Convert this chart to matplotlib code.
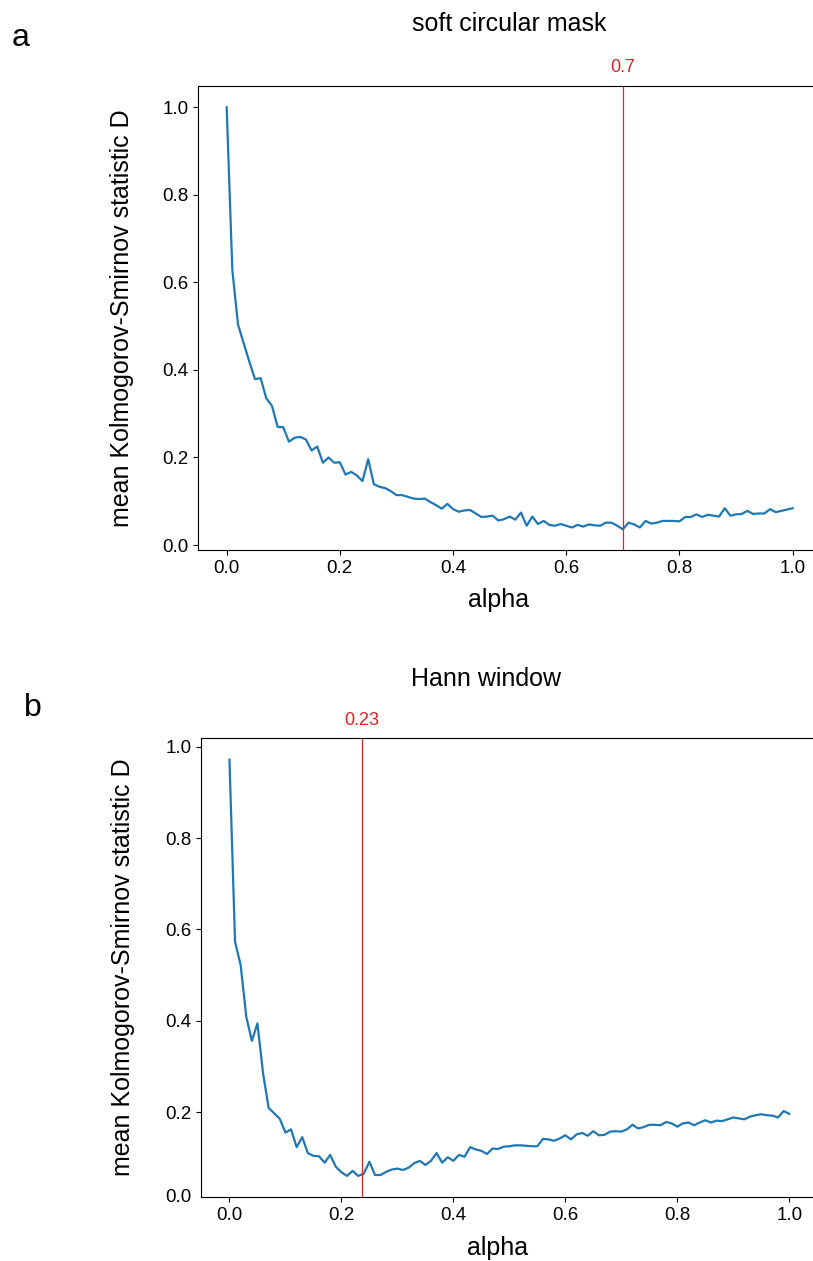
import numpy as np
import matplotlib
matplotlib.use('Agg')
import matplotlib.pyplot as plt

plt.rcParams['font.family'] = ['Liberation Sans', 'DejaVu Sans']

alpha = np.round(np.arange(0, 101) * 0.01, 2)

# soft circular mask
d_soft = [1.000, 0.628, 0.504, 0.461, 0.419, 0.379, 0.381, 0.335, 0.318, 0.270,
          0.269, 0.236, 0.245, 0.247, 0.241, 0.216, 0.225, 0.188, 0.200, 0.188,
          0.189, 0.161, 0.167, 0.159, 0.146, 0.196, 0.139, 0.133, 0.130, 0.123,
          0.114, 0.114, 0.110, 0.106, 0.105, 0.106, 0.098, 0.091, 0.083, 0.094,
          0.082, 0.076, 0.079, 0.080, 0.072, 0.064, 0.065, 0.067, 0.056, 0.059,
          0.065, 0.058, 0.074, 0.044, 0.065, 0.048, 0.055, 0.046, 0.044, 0.048,
          0.044, 0.040, 0.046, 0.042, 0.047, 0.045, 0.044, 0.051, 0.051, 0.044,
          0.036, 0.051, 0.047, 0.040, 0.055, 0.049, 0.051, 0.055, 0.055, 0.055,
          0.054, 0.064, 0.064, 0.070, 0.064, 0.069, 0.067, 0.065, 0.084, 0.067,
          0.070, 0.071, 0.078, 0.071, 0.072, 0.072, 0.082, 0.075, 0.078, 0.081,
          0.084]

# Hann window
d_hann = [0.972, 0.573, 0.522, 0.409, 0.356, 0.394, 0.285, 0.209, 0.197, 0.185,
          0.155, 0.162, 0.123, 0.145, 0.110, 0.104, 0.103, 0.089, 0.106, 0.080,
          0.068, 0.060, 0.071, 0.060, 0.065, 0.091, 0.062, 0.062, 0.069, 0.074,
          0.076, 0.073, 0.078, 0.088, 0.093, 0.084, 0.093, 0.110, 0.089, 0.101,
          0.093, 0.106, 0.102, 0.123, 0.118, 0.115, 0.108, 0.120, 0.119, 0.124,
          0.125, 0.127, 0.127, 0.126, 0.125, 0.125, 0.141, 0.140, 0.137, 0.142,
          0.149, 0.140, 0.151, 0.154, 0.148, 0.158, 0.149, 0.150, 0.157, 0.158,
          0.157, 0.162, 0.172, 0.164, 0.167, 0.172, 0.172, 0.171, 0.178, 0.175,
          0.168, 0.175, 0.177, 0.171, 0.177, 0.182, 0.177, 0.181, 0.180, 0.184,
          0.188, 0.186, 0.184, 0.190, 0.193, 0.195, 0.193, 0.192, 0.188, 0.202,
          0.196]

best_soft = 0.7
best_hann = 0.236
best_labels = ['0.7', '0.23']
titles = ['soft circular mask', 'Hann window']
panel_letters = ['a', 'b']

fig = plt.figure(figsize=(8.13, 12.61), dpi=100)
ax1 = fig.add_axes([0.2440, 0.5638, 0.7658, 0.3680])
ax2 = fig.add_axes([0.2478, 0.05075, 0.7574, 0.36376])

ylab = 'mean Kolmogorov-Smirnov statistic D'

for ax, d, best, lab, title, pad in [(ax1, d_soft, best_soft, best_labels[0], titles[0], 39.5),
                                     (ax2, d_hann, best_hann, best_labels[1], titles[1], 37.5)]:
    ax.plot(alpha, d, color='tab:blue', lw=1.6)
    ax.axvline(best, color='tab:red', lw=0.9)
    ax.annotate(lab, xy=(best, 1), xycoords=('data', 'axes fraction'),
                xytext=(0, 13), textcoords='offset points',
                ha='center', va='center', color='tab:red', fontsize=13)
    ax.set_title(title, fontsize=18, pad=pad)
    ax.set_xlabel('alpha', fontsize=18)
    ax.set_ylabel(ylab, fontsize=18)
    ax.set_xticks([0.0, 0.2, 0.4, 0.6, 0.8, 1.0])
    ax.set_yticks([0.0, 0.2, 0.4, 0.6, 0.8, 1.0])
    ax.tick_params(labelsize=13.5)

ax1.set_ylim(-0.0115, 1.0485)
ax2.set_ylim(0.0138, 1.0187)

# panel b title sits a bit left of the axes centre in the reference
ax2.title.set_x(0.462)

ax1.xaxis.set_label_coords(0.4828, -0.082)
ax2.xaxis.set_label_coords(0.4815, -0.085)
ax1.yaxis.set_label_coords(-0.103, 0.5)
ax2.yaxis.set_label_coords(-0.108, 0.5)

# the 0.0 label on panel b sits on the bottom spine, without a tick
ax2.annotate('0.0', xy=(0, ax2.get_ylim()[0]), xycoords=('axes fraction', 'data'),
             xytext=(-7, 0), textcoords='offset points',
             ha='right', va='center', fontsize=13.5)

fig.text(21 / 813, 1 - 38 / 1261, panel_letters[0], ha='center', va='center', fontsize=23)
fig.text(33 / 813, 1 - 708 / 1261, panel_letters[1], ha='center', va='center', fontsize=23)

fig.savefig('out.png', dpi=100)
